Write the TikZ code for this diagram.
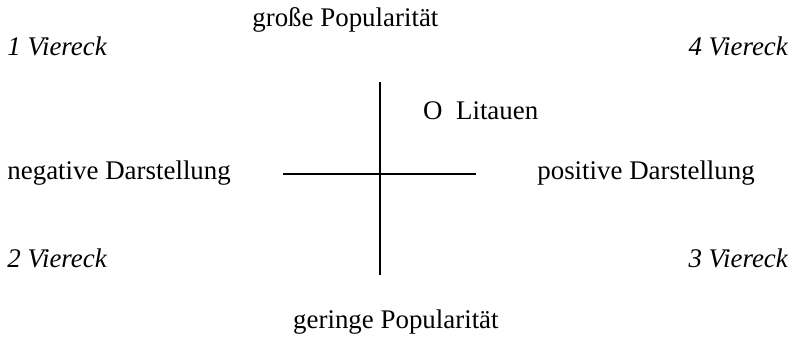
\documentclass[tikz,border=0pt]{standalone}
\usepackage{fontspec}
\setmainfont{Liberation Serif}
\usepackage{tikz}
\usetikzlibrary{positioning}

\begin{document}
\begin{tikzpicture}[
    label/.style={inner sep=0pt, font=\fontsize{20.25}{24}\selectfont},
    quadrant/.style={label, font=\fontsize{20.25}{24}\selectfont\itshape},
    axis/.style={line width=1.5pt}
]
\useasboundingbox (0,0) rectangle (20.98,-8.94);

% Labels
\node[label, anchor=base west] (high) at (6.67,-0.69) {große Popularität};
\node[label, anchor=base west] (low) at (7.75,-8.68) {geringe Popularität};
\node[label, anchor=base west] (neg) at (0.19,-4.74) {negative Darstellung};
\node[label, anchor=base west] (pos) at (14.21,-4.74) {positive Darstellung};
\node[label, anchor=base west] (lit) at (11.19,-3.17) {O~~Litauen};

% Quadrants
\node[quadrant, anchor=base west] (q1) at (0.19,-1.46) {1 Viereck};
\node[quadrant, anchor=base east] (q4) at (20.85,-1.46) {4 Viereck};
\node[quadrant, anchor=base west] (q2) at (0.19,-7.09) {2 Viereck};
\node[quadrant, anchor=base east] (q3) at (20.85,-7.09) {3 Viereck};

% Axes
\coordinate (top) at (10.05,-2.17);
\coordinate (bottom) at (10.05,-7.28);
\coordinate (left) at (7.49,-4.61);
\coordinate (right) at (12.59,-4.61);
\draw[axis] (top) -- (bottom);
\draw[axis] (left) -- (right);

\end{tikzpicture}
\end{document}
